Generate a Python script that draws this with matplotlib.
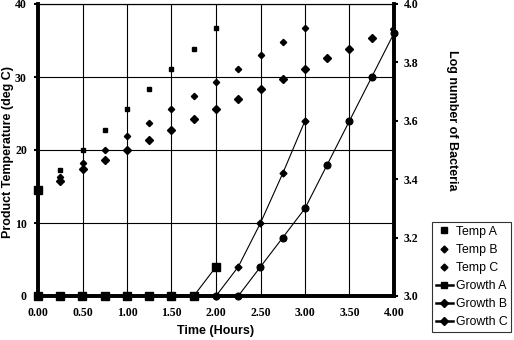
import matplotlib
matplotlib.use('Agg')
import matplotlib.pyplot as plt
from matplotlib.lines import Line2D

plt.rcParams['font.family'] = ['Liberation Sans', 'DejaVu Sans']

# time axis (hours)
hours = [0.00, 0.25, 0.50, 0.75, 1.00, 1.25, 1.50, 1.75, 2.00, 2.25, 2.50,
         2.75, 3.00, 3.25, 3.50, 3.75, 4.00]

# product temperature (deg C)
temp_a = [14.5, 17.3, 20.0, 22.7, 25.6, 28.4, 31.1, 33.8, 36.7]
temp_b = [14.5, 16.3, 18.2, 20.0, 21.9, 23.7, 25.6, 27.4, 29.3, 31.1, 33.0,
          34.8, 36.7]
temp_c = [14.5, 15.8, 17.4, 18.6, 20.0, 21.4, 22.7, 24.2, 25.6, 27.0, 28.4,
          29.7, 31.1, 32.6, 33.8, 35.3, 36.6]

# log number of bacteria
growth_a = [3.0, 3.0, 3.0, 3.0, 3.0, 3.0, 3.0, 3.0, 3.1]
growth_b = [3.0, 3.0, 3.0, 3.0, 3.0, 3.0, 3.0, 3.0, 3.0, 3.1, 3.25, 3.42,
            3.6]
growth_c = [3.0, 3.0, 3.0, 3.0, 3.0, 3.0, 3.0, 3.0, 3.0, 3.0, 3.1, 3.2, 3.3,
            3.45, 3.6, 3.75, 3.9]

x_ticks = [0, 0.5, 1.0, 1.5, 2.0, 2.5, 3.0, 3.5, 4.0]
left_ticks = [0, 10, 20, 30, 40]
right_ticks = [3.0, 3.2, 3.4, 3.6, 3.8, 4.0]

fig = plt.figure(figsize=(5.14, 3.4), dpi=100)
ax = fig.add_axes([38 / 514, 1 - 296 / 340, 356 / 514, 292 / 340])
ax2 = ax.twinx()

ax.set_xlim(0, 4)
ax.set_ylim(0, 40)
ax2.set_ylim(3.0, 4.0)

# grid
for x in x_ticks[1:-1]:
    ax.axvline(x, color='black', lw=0.8, zorder=0)
for y in left_ticks[1:]:
    ax.axhline(y, color='black', lw=0.8, zorder=0)

ax.plot(hours[:len(temp_a)], temp_a, ls='none', marker='s', ms=3.4,
        color='black', label='Temp A', zorder=3)
ax.plot(hours[:len(temp_b)], temp_b, ls='none', marker='D', ms=3.2,
        color='black', label='Temp B', zorder=3)
ax.plot(hours[:len(temp_c)], temp_c, ls='none', marker='D', ms=3.7,
        color='black', label='Temp C', zorder=3)
# big square at t=0
ax.plot([hours[0]], [temp_a[0]], ls='none', marker='s', ms=5.5,
        color='black', zorder=3, clip_on=False)

ax2.plot(hours[:len(growth_a)], growth_a, marker='s', ms=5.3, lw=0.8,
         color='black', label='Growth A', clip_on=False, zorder=4)
ax2.plot(hours[:len(growth_b)], growth_b, marker='D', ms=3.5, lw=0.8,
         color='black', label='Growth B', clip_on=False, zorder=4)
ax2.plot(hours[:len(growth_c)], growth_c, marker='o', ms=4.8, lw=0.8,
         color='black', label='Growth C', clip_on=False, zorder=4)
ax2.axhline(3.0, color='black', lw=2.5, zorder=3)

for a in (ax, ax2):
    for s in ('left', 'right', 'bottom'):
        a.spines[s].set_linewidth(2.6)
    a.spines['top'].set_linewidth(0.8)

ax.set_xticks(x_ticks)
ax.set_xticklabels(['%.2f' % v for v in x_ticks])
ax.set_yticks(left_ticks)
ax2.set_yticks(right_ticks)
ax2.set_yticklabels(['%.1f' % v for v in right_ticks])
ax.tick_params(axis='x', length=0, pad=8, labelsize=8.5)
ax.tick_params(axis='y', direction='out', length=3, width=1.5, pad=5,
               labelsize=8.5)
ax2.tick_params(axis='y', direction='out', length=3, width=1.5, pad=4,
                labelsize=8.5)
for lab in ax.get_xticklabels() + ax.get_yticklabels() + ax2.get_yticklabels():
    lab.set_fontweight('bold')
    lab.set_fontfamily(['Liberation Serif', 'DejaVu Serif'])

fig.text(216 / 514, 1 - 331 / 340, 'Time (Hours)', ha='center', va='center',
         fontsize=9, fontweight='bold')
fig.text(8 / 514, 1 - 152 / 340, 'Product Temperature (deg C)', rotation=90,
         ha='center', va='center', fontsize=9, fontweight='bold')
fig.text(452 / 514, 1 - 120 / 340, 'Log number of Bacteria', rotation=-90,
         ha='center', va='center', fontsize=9, fontweight='bold')

handles = [
    Line2D([], [], ls='none', marker='s', ms=4.5, color='black'),
    Line2D([], [], ls='none', marker='D', ms=3.5, color='black'),
    Line2D([], [], ls='none', marker='D', ms=3.5, color='black'),
    Line2D([], [], marker='s', ms=5, lw=1.8, color='black'),
    Line2D([], [], marker='D', ms=4, lw=1.8, color='black'),
    Line2D([], [], marker='D', ms=4, lw=1.8, color='black'),
]
labels = ['Temp A', 'Temp B', 'Temp C', 'Growth A', 'Growth B', 'Growth C']
leg = fig.legend(handles, labels, loc='upper left',
                 bbox_to_anchor=(432 / 514, 1 - 222 / 340), fontsize=8.8,
                 frameon=True, fancybox=False, handlelength=1.4,
                 handletextpad=0.25, borderpad=0.3, labelspacing=0.5,
                 borderaxespad=0)
leg.get_frame().set_edgecolor('black')
leg.get_frame().set_linewidth(0.8)

fig.savefig('out.png', dpi=100)
